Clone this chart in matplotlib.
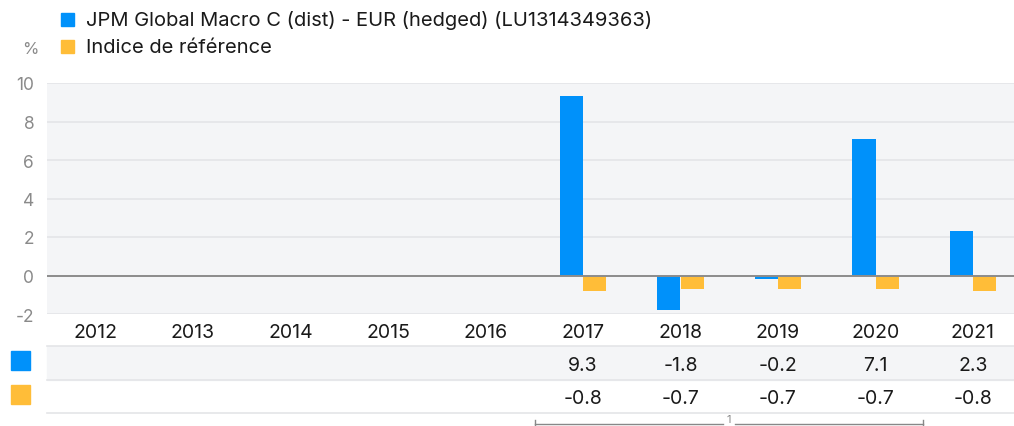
"""Calendar year performance bars with value table underneath."""

import matplotlib.pyplot as plt
from matplotlib.patches import Rectangle
from matplotlib.lines import Line2D

plt.rcParams["font.family"] = ["Inter", "DejaVu Sans"]

years = ["2012", "2013", "2014", "2015", "2016", "2017", "2018", "2019", "2020", "2021"]
fund_name = "JPM Global Macro C (dist) - EUR (hedged) (LU1314349363)"
bench_name = "Indice de référence"
fund = [None, None, None, None, None, 9.3, -1.8, -0.2, 7.1, 2.3]
bench = [None, None, None, None, None, -0.8, -0.7, -0.7, -0.7, -0.8]
yticks = [-2, 0, 2, 4, 6, 8, 10]

BLUE = "#0091fa"
ORANGE = "#ffbd38"
PANEL = "#f4f5f7"
GRID = "#e4e5e8"
GREY_TXT = "#8a8a8a"

W, H = 1014, 427
fig = plt.figure(figsize=(W / 100, H / 100), dpi=100)


def fx(px):
    return px / W


def fy(py):
    return 1 - py / H


# main axes: x from 46.75 px to 1021.75 px, y from 84 px (10) to 315 px (-2)
left, right, top, bottom = 46.75, 1021.75, 84, 315
ax = fig.add_axes([fx(left), fy(bottom), fx(right - left), fy(top) - fy(bottom)])
ax.set_facecolor(PANEL)
ax.set_xlim(-0.5, len(years) - 0.5)
ax.set_ylim(-2, 10)
ax.set_yticks(yticks)
ax.set_yticklabels([str(t) for t in yticks], color=GREY_TXT, fontsize=12.5)
ax.set_xticks([])
ax.tick_params(axis="y", length=0, pad=9)
for s in ax.spines.values():
    s.set_visible(False)
for t in yticks:
    ax.axhline(t, color=GRID, linewidth=1.2, zorder=1)

bw = 0.236
for i in range(len(years)):
    if fund[i] is not None:
        ax.bar(i - bw / 2, fund[i], width=bw, color=BLUE, zorder=2, linewidth=0)
    if bench[i] is not None:
        ax.bar(i + bw / 2, bench[i], width=bw, color=ORANGE, zorder=2, linewidth=0)
ax.axhline(0, color="#8c8c8c", linewidth=1.4, zorder=3)

# legend
fig.patches.append(Rectangle((fx(61), fy(27)), fx(13), fy(14) - fy(27),
                             transform=fig.transFigure, color=BLUE))
fig.patches.append(Rectangle((fx(61), fy(54)), fx(13), fy(41) - fy(54),
                             transform=fig.transFigure, color=ORANGE))
fig.text(fx(86), fy(21), fund_name, fontsize=14.5, va="center", color="#1a1a1a")
fig.text(fx(86), fy(48), bench_name, fontsize=14.5, va="center", color="#1a1a1a")
fig.text(fx(38), fy(49), "%", fontsize=12, va="center", ha="right", color=GREY_TXT)

# table under chart
fig.patches.append(Rectangle((fx(47), fy(381)), fx(W - 47), fy(347) - fy(381),
                             transform=fig.transFigure, color=PANEL, zorder=0))
for yy in (347, 381, 414):
    fig.lines.append(Line2D([fx(47), 1], [fy(yy), fy(yy)], transform=fig.transFigure,
                            color=GRID, linewidth=1.2))
fig.patches.append(Rectangle((fx(11), fy(371)), fx(19), fy(352) - fy(371),
                             transform=fig.transFigure, color=BLUE))
fig.patches.append(Rectangle((fx(11), fy(405)), fx(19), fy(386) - fy(405),
                             transform=fig.transFigure, color=ORANGE))

for i, yr in enumerate(years):
    xpx = left + (i + 0.5) * (right - left) / len(years)
    fig.text(fx(xpx), fy(333), yr, fontsize=14, ha="center", va="center", color="#1a1a1a")
    if fund[i] is not None:
        fig.text(fx(xpx), fy(366), f"{fund[i]:.1f}", fontsize=14, ha="center",
                 va="center", color="#1a1a1a")
    if bench[i] is not None:
        fig.text(fx(xpx), fy(399), f"{bench[i]:.1f}", fontsize=14, ha="center",
                 va="center", color="#1a1a1a")

# bracket at the bottom
bx0, bx1, by = 535, 923, 425
fig.lines.append(Line2D([fx(bx0), fx(723)], [fy(by), fy(by)], transform=fig.transFigure,
                        color="#888888", linewidth=1))
fig.lines.append(Line2D([fx(735), fx(bx1)], [fy(by), fy(by)], transform=fig.transFigure,
                        color="#888888", linewidth=1))
for bx in (bx0, bx1):
    fig.lines.append(Line2D([fx(bx), fx(bx)], [fy(by + 3), fy(by - 4)],
                            transform=fig.transFigure, color="#888888", linewidth=1))
fig.text(fx(729), fy(420.5), "1", fontsize=8, ha="center", va="center", color="#888888")

fig.savefig("out.png", dpi=100)
